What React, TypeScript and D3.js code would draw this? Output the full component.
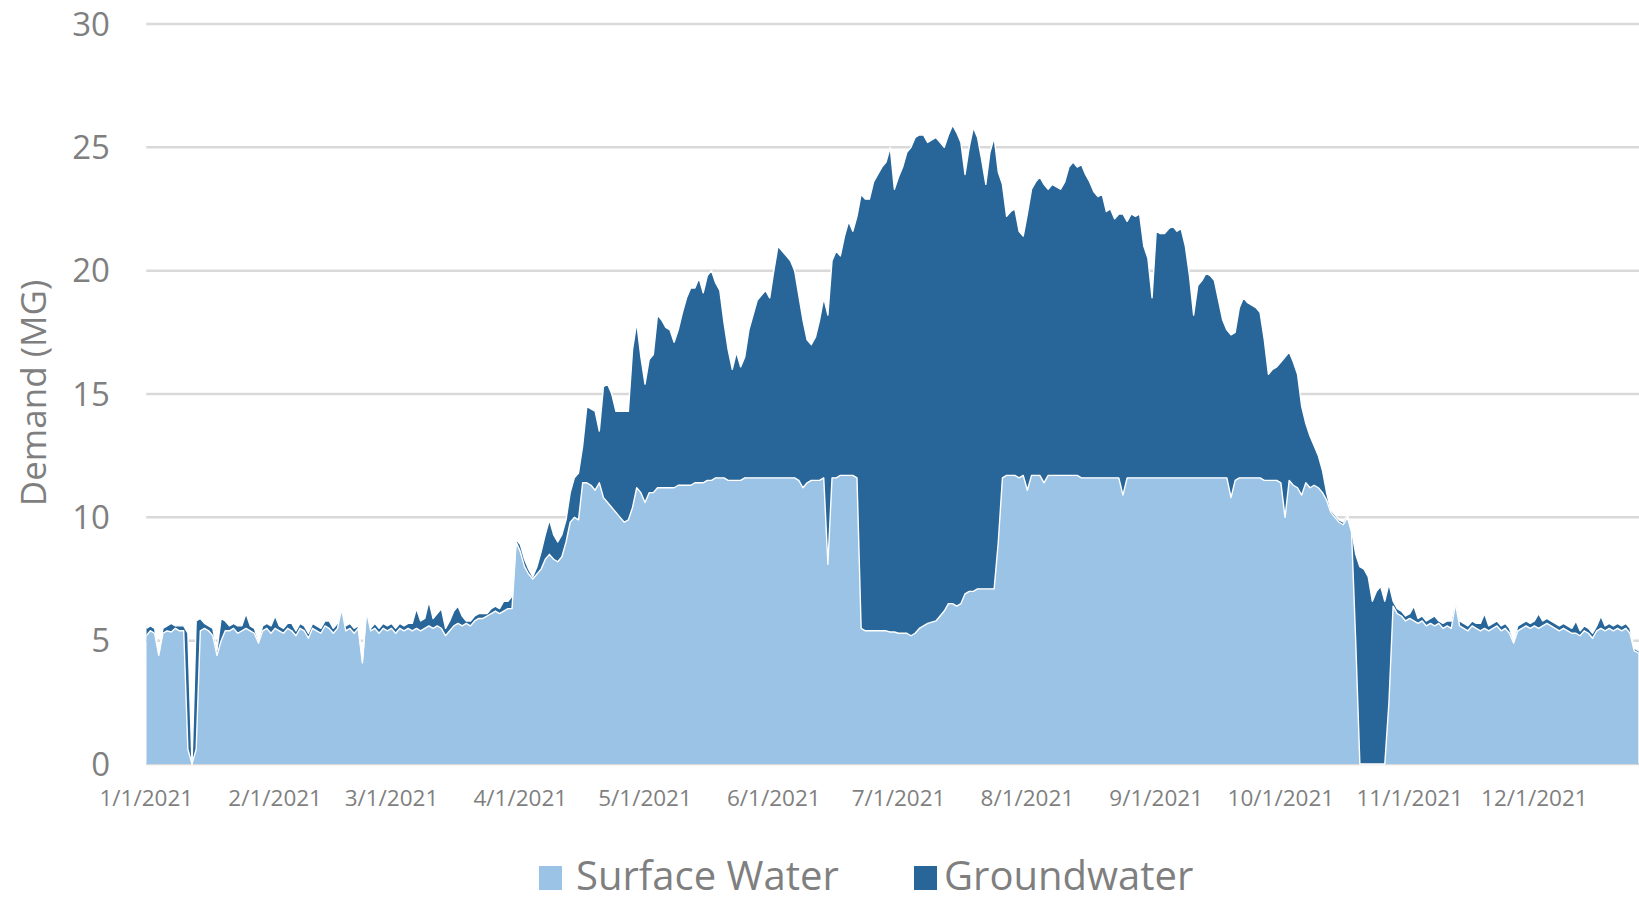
import React from "react";
import * as d3 from "d3";

// ---- data (million gallons per day) ----
const startDate = new Date(2021, 0, 1);

const surfaceWater: number[] = [
  // Jan (0-30)
  5.2, 5.4, 5.3, 4.4, 5.3, 5.4, 5.35, 5.5, 5.4, 5.4, 0.6, 0.0, 0.6, 5.4, 5.5, 5.4, 5.2, 4.4, 5.0, 5.4,
  5.4, 5.5, 5.3, 5.4, 5.5, 5.4, 5.3, 4.9, 5.4, 5.5, 5.3,
  // Feb (31-58)
  5.5, 5.4, 5.3, 5.5, 5.4, 5.2, 5.5, 5.4, 5.1, 5.5, 5.4, 5.3, 5.6, 5.5, 5.3, 5.5, 6.3, 5.4, 5.5, 5.3,
  5.5, 4.1, 6.2, 5.4, 5.5, 5.3, 5.5, 5.4,
  // Mar (59-89)
  5.5, 5.3, 5.5, 5.4, 5.5, 5.4, 5.5, 5.4, 5.5, 5.6, 5.5, 5.6, 5.5, 5.2, 5.4, 5.6, 5.7, 5.6, 5.7, 5.6,
  5.8, 5.9, 5.9, 6.0, 6.1, 6.2, 6.1, 6.2, 6.3, 6.3, 9.0,
  // Apr (90-119)
  8.6, 8.0, 7.7, 7.5, 7.7, 7.9, 8.3, 8.5, 8.3, 8.2, 8.4, 9.0, 9.8, 10.0, 9.9, 11.4, 11.4, 11.3, 11.1, 11.4,
  10.8, 10.6, 10.4, 10.2, 10.0, 9.8, 9.9, 10.4, 11.2, 11.0,
  // May (120-150)
  10.6, 11.0, 11.0, 11.2, 11.2, 11.2, 11.2, 11.2, 11.3, 11.3, 11.3, 11.3, 11.4, 11.4, 11.4, 11.5, 11.5, 11.6, 11.6, 11.6,
  11.5, 11.5, 11.5, 11.5, 11.6, 11.6, 11.6, 11.6, 11.6, 11.6, 11.6,
  // Jun (151-180)
  11.6, 11.6, 11.6, 11.6, 11.6, 11.6, 11.5, 11.2, 11.4, 11.5, 11.5, 11.5, 11.6, 8.1, 11.6, 11.6, 11.7, 11.7, 11.7, 11.7,
  11.6, 5.5, 5.4, 5.4, 5.4, 5.4, 5.4, 5.4, 5.35, 5.35,
  // Jul (181-211)
  5.3, 5.3, 5.3, 5.2, 5.3, 5.5, 5.6, 5.7, 5.75, 5.8, 6.0, 6.2, 6.5, 6.5, 6.4, 6.5, 6.9, 7.0, 7.0, 7.1,
  7.1, 7.1, 7.1, 7.1, 9.0, 11.6, 11.7, 11.7, 11.7, 11.6, 11.7,
  // Aug (212-242)
  11.1, 11.7, 11.7, 11.7, 11.4, 11.7, 11.7, 11.7, 11.7, 11.7, 11.7, 11.7, 11.7, 11.6, 11.6, 11.6, 11.6, 11.6, 11.6, 11.6,
  11.6, 11.6, 11.6, 10.9, 11.6, 11.6, 11.6, 11.6, 11.6, 11.6, 11.6,
  // Sep (243-272)
  11.6, 11.6, 11.6, 11.6, 11.6, 11.6, 11.6, 11.6, 11.6, 11.6, 11.6, 11.6, 11.6, 11.6, 11.6, 11.6, 11.6, 11.6, 10.8, 11.5,
  11.6, 11.6, 11.6, 11.6, 11.6, 11.6, 11.5, 11.5, 11.5, 11.5,
  // Oct (273-303)
  11.4, 10.0, 11.5, 11.3, 11.2, 10.9, 11.4, 11.2, 11.3, 11.2, 11.0, 10.7, 10.2, 10.0, 9.8, 9.7, 10.0, 9.4, 5.0, 0.0,
  0.0, 0.0, 0.0, 0.0, 0.0, 0.0, 2.5, 6.4, 6.1, 6.0, 5.8,
  // Nov (304-333)
  5.9, 5.8, 5.7, 5.8, 5.6, 5.7, 5.6, 5.7, 5.5, 5.6, 5.5, 6.5, 5.6, 5.5, 5.4, 5.6, 5.5, 5.4, 5.5, 5.4,
  5.5, 5.6, 5.4, 5.5, 5.3, 4.9, 5.4, 5.5, 5.6, 5.5,
  // Dec (334-359)
  5.6, 5.5, 5.6, 5.7, 5.6, 5.5, 5.4, 5.5, 5.4, 5.3, 5.3, 5.2, 5.4, 5.3, 5.1, 5.4, 5.5, 5.4, 5.5, 5.4,
  5.5, 5.4, 5.5, 5.3, 4.6, 4.5,
];

const groundwater: number[] = [
  // Jan
  0.3, 0.2, 0.2, 0.1, 0.2, 0.2, 0.35, 0.1, 0.2, 0.2, 4.7, 0.0, 5.2, 0.5, 0.2, 0.2, 0.3, 0.2, 0.9, 0.4,
  0.2, 0.2, 0.3, 0.2, 0.6, 0.2, 0.2, 0.1, 0.2, 0.2, 0.3,
  // Feb
  0.5, 0.2, 0.2, 0.2, 0.3, 0.2, 0.2, 0.2, 0.2, 0.2, 0.2, 0.2, 0.2, 0.3, 0.2, 0.2, 0.1, 0.2, 0.2, 0.2,
  0.1, 0.1, 0.1, 0.1, 0.2, 0.2, 0.2, 0.2,
  // Mar
  0.2, 0.2, 0.2, 0.2, 0.2, 0.3, 0.8, 0.4, 0.4, 1.0, 0.4, 0.5, 0.8, 0.3, 0.4, 0.6, 0.7, 0.4, 0.1, 0.2,
  0.2, 0.2, 0.2, 0.1, 0.2, 0.2, 0.2, 0.4, 0.3, 0.5, 0.1,
  // Apr
  0.3, 0.3, 0.2, 0.1, 0.3, 0.7, 1.0, 1.4, 1.0, 0.8, 0.9, 0.9, 1.2, 1.6, 1.9, 1.5, 3.1, 3.1, 3.2, 2.1,
  4.5, 4.8, 4.6, 4.1, 4.3, 4.5, 4.4, 6.4, 6.7, 5.5,
  // May
  4.8, 5.4, 5.6, 7.0, 6.8, 6.5, 6.4, 5.9, 6.3, 7.0, 7.6, 8.0, 7.9, 8.3, 7.7, 8.3, 8.5, 7.9, 7.6, 6.3,
  5.3, 4.5, 5.2, 4.6, 4.9, 6.0, 6.6, 7.2, 7.4, 7.6, 7.3,
  // Jun
  8.4, 9.4, 9.2, 9.0, 8.8, 8.4, 7.5, 6.8, 5.8, 5.5, 5.8, 6.5, 7.3, 10.1, 8.8, 9.2, 8.9, 9.7, 10.3, 9.9,
  10.6, 17.6, 17.5, 17.5, 18.2, 18.5, 18.8, 19.0, 19.65, 17.95,
  // Jul
  18.5, 18.9, 19.5, 19.8, 20.1, 20.0, 19.9, 19.5, 19.55, 19.6, 19.2, 18.8, 19.0, 19.4, 19.2, 18.7, 17.0, 18.0, 18.8, 18.3,
  17.4, 16.4, 17.7, 18.3, 15.0, 11.9, 10.5, 10.7, 10.8, 10.0, 9.7,
  // Aug
  11.2, 11.6, 11.9, 12.1, 12.1, 11.6, 11.8, 11.7, 11.6, 11.9, 12.5, 12.7, 12.5, 12.7, 12.3, 12.0, 11.6, 11.4, 11.5, 10.8,
  10.9, 10.5, 10.7, 11.4, 10.4, 10.7, 10.6, 10.7, 9.4, 8.9, 7.3,
  // Sep
  10.0, 9.9, 9.9, 10.1, 10.2, 10.0, 10.1, 9.4, 8.2, 6.6, 7.8, 8.0, 8.3, 8.2, 8.0, 7.2, 6.4, 6.0, 6.6, 6.0,
  6.9, 7.3, 7.1, 7.0, 6.9, 6.7, 5.7, 4.3, 4.5, 4.6,
  // Oct
  4.9, 6.5, 5.2, 5.0, 4.6, 3.6, 2.4, 2.1, 1.6, 1.3, 0.9, 0.3, 0.1, 0.1, 0.1, 0.1, 0.1, 0.1, 3.5, 8.0,
  7.9, 7.6, 6.6, 7.0, 7.2, 6.6, 4.8, 0.2, 0.2, 0.2, 0.2,
  // Nov
  0.2, 0.6, 0.2, 0.2, 0.2, 0.2, 0.4, 0.1, 0.2, 0.2, 0.3, 0.2, 0.2, 0.2, 0.2, 0.2, 0.2, 0.3, 0.6, 0.2,
  0.2, 0.2, 0.2, 0.2, 0.2, 0.1, 0.2, 0.2, 0.2, 0.2,
  // Dec
  0.2, 0.6, 0.2, 0.2, 0.2, 0.2, 0.2, 0.2, 0.2, 0.2, 0.5, 0.2, 0.2, 0.2, 0.2, 0.2, 0.5, 0.2, 0.2, 0.2,
  0.2, 0.2, 0.2, 0.2, 0.1, 0.1,
];

const yTicks = [0, 5, 10, 15, 20, 25, 30];
const xTickMonths = [0, 1, 2, 3, 4, 5, 6, 7, 8, 9, 10, 11];
const xTickLabels = [
  "1/1/2021", "2/1/2021", "3/1/2021", "4/1/2021", "5/1/2021", "6/1/2021",
  "7/1/2021", "8/1/2021", "9/1/2021", "10/1/2021", "11/1/2021", "12/1/2021",
];
const seriesNames = ["Surface Water", "Groundwater"];
const seriesColors = ["#9AC3E6", "#28669A"];
const yTitle = "Demand (MG)";

const FONT = "'Open Sans', 'Noto Sans', sans-serif";
const TEXT = "#7F7F7F";

export default function App() {
  const W = 1639;
  const H = 901;
  const x0 = 146.3;
  const dayPx = 4.156;
  const x = d3
    .scaleTime()
    .domain([startDate, new Date(2021, 11, 31)])
    .range([x0, x0 + 364 * dayPx]);
  const y = d3.scaleLinear().domain([0, 30]).range([764, 24]);

  type Row = { date: Date; surface: number; ground: number };
  const rows: Row[] = surfaceWater.map((s, i) => ({
    date: d3.timeDay.offset(startDate, i),
    surface: s,
    ground: groundwater[i],
  }));

  const stacked = d3.stack<Row>().keys(["surface", "ground"])(rows);
  const area = d3
    .area<d3.SeriesPoint<Row>>()
    .x((d) => x(d.data.date))
    .y0((d) => y(d[0]))
    .y1((d) => y(d[1]));
  const topLine = d3
    .line<d3.SeriesPoint<Row>>()
    .x((d) => x(d.data.date))
    .y((d) => y(d[1]));

  return (
    <svg
      width={W}
      height={H}
      style={{ position: "absolute", left: 0, top: 0, background: "#fff" }}
    >
      <defs>
        <clipPath id="plot">
          <rect x={x0} y={0} width={W - x0} height={766} />
        </clipPath>
      </defs>
      {/* gridlines */}
      {yTicks.map((t) => (
        <line
          key={t}
          x1={x0}
          x2={W}
          y1={y(t)}
          y2={y(t)}
          stroke="#D9D9D9"
          strokeWidth={2.5}
        />
      ))}
      {/* areas */}
      <g clipPath="url(#plot)">
        {stacked.map((s, i) => (
          <path key={s.key} d={area(s) || ""} fill={seriesColors[i]} />
        ))}
        {stacked.map((s) => (
          <path
            key={"l" + s.key}
            d={topLine(s) || ""}
            fill="none"
            stroke="#FFFFFF"
            strokeWidth={1.4}
            strokeLinejoin="round"
          />
        ))}
      </g>
      {/* y tick labels */}
      {yTicks.map((t) => (
        <text
          key={"yt" + t}
          x={110}
          y={y(t) + 11.8}
          textAnchor="end"
          fontFamily={FONT}
          fontSize={33}
          fill={TEXT}
        >
          {t}
        </text>
      ))}
      {/* x tick labels */}
      {xTickMonths.map((m, i) => (
        <text
          key={"xt" + m}
          x={x(new Date(2021, m, 1))}
          y={806}
          textAnchor="middle"
          fontFamily={FONT}
          fontSize={22.5}
          fill={TEXT}
        >
          {xTickLabels[i]}
        </text>
      ))}
      {/* y title */}
      <text
        transform="translate(46,393) rotate(-90)"
        textAnchor="middle"
        fontFamily={FONT}
        fontSize={35}
        fill={TEXT}
      >
        {yTitle}
      </text>
      {/* legend */}
      <rect x={539} y={866} width={23} height={24} fill={seriesColors[0]} />
      <text x={576} y={890} fontFamily={FONT} fontSize={40} fill={TEXT}>
        {seriesNames[0]}
      </text>
      <rect x={914} y={866} width={23} height={24} fill={seriesColors[1]} />
      <text x={944} y={890} fontFamily={FONT} fontSize={40} fill={TEXT}>
        {seriesNames[1]}
      </text>
    </svg>
  );
}
